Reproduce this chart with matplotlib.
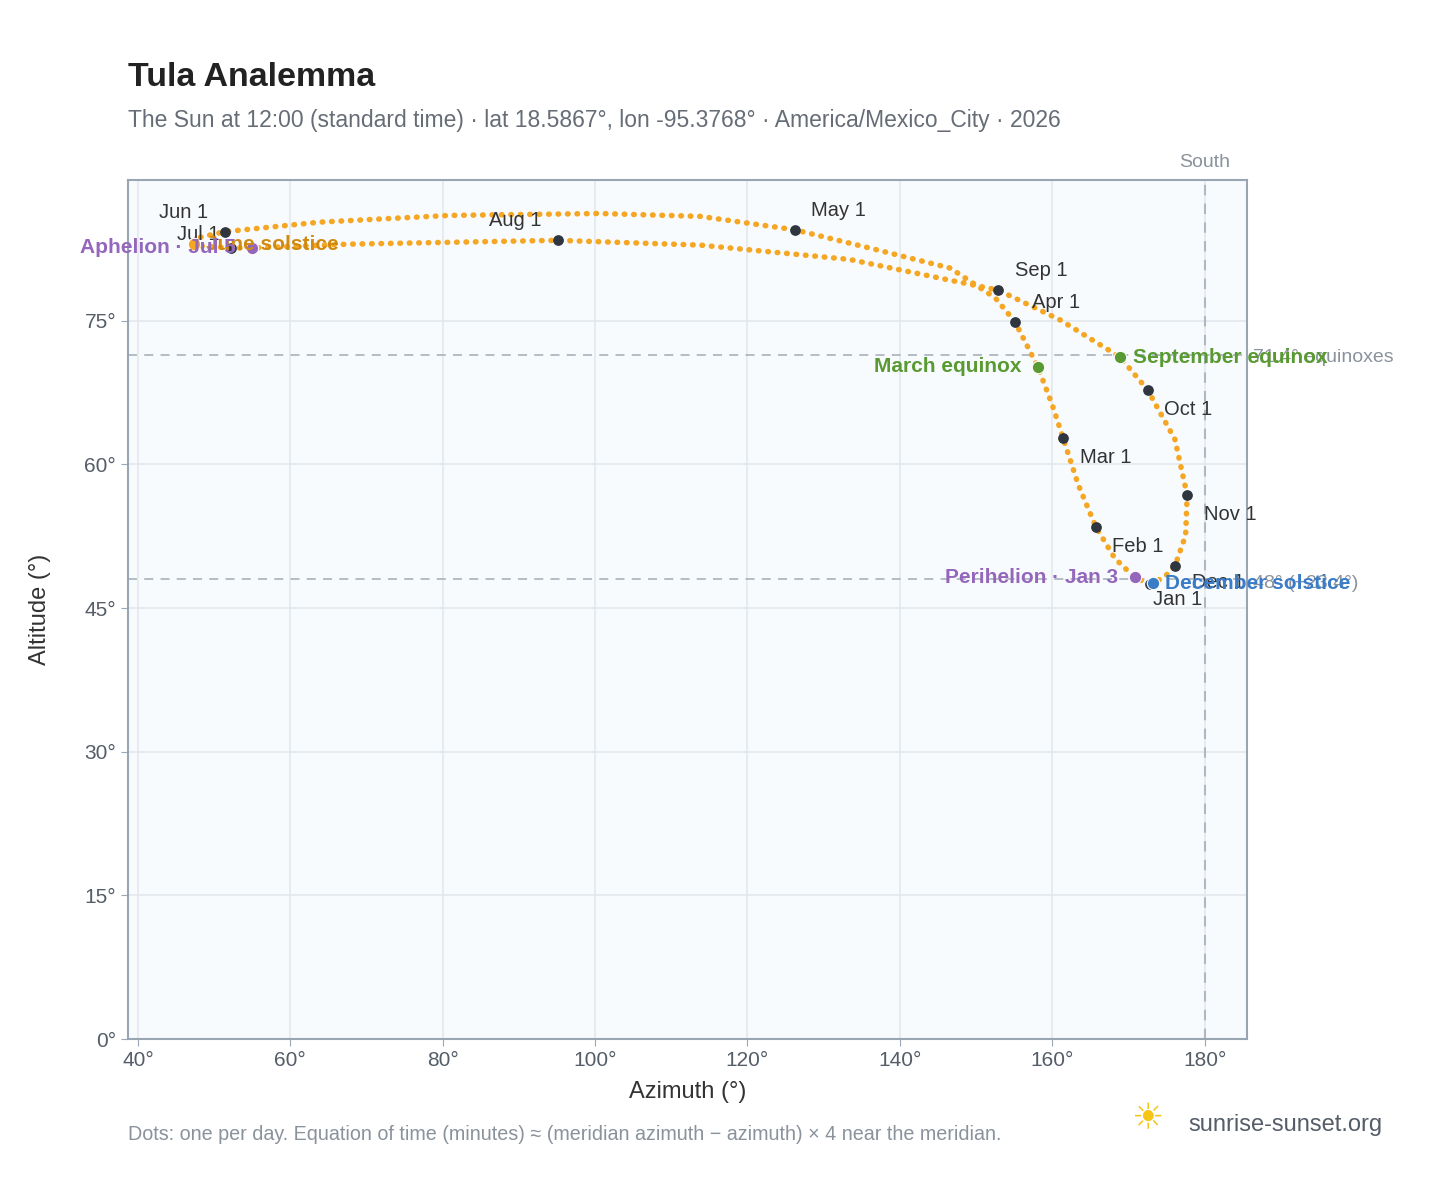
import matplotlib
matplotlib.use("Agg")
import matplotlib.pyplot as plt

plt.rcParams['font.family'] = ['Liberation Sans', 'DejaVu Sans']

# analemma path (azimuth°, altitude°), Jan 1 -> Dec 31
path_az = [172.8, 170.8, 168.2, 165.7, 163.4, 161.4, 160.0, 158.1, 155.1, 152.5, 146.6, 136.0, 126.2,
           113.8, 100.6, 80.9, 63.9, 51.4, 48.1, 47.3, 48.5, 52.2, 55.0, 67.8, 95.1, 113.8, 133.4,
           152.9, 161.0, 168.9, 172.5, 176.1, 177.7, 177.5, 176.1, 174.8, 173.2, 172.8]
path_alt = [47.5, 48.2, 50.2, 53.5, 57.9, 62.8, 66.2, 70.2, 74.9, 77.4, 80.5, 82.6, 84.5,
            85.9, 86.2, 86.0, 85.3, 84.3, 83.7, 83.0, 82.8, 82.6, 82.6, 83.0, 83.4, 82.9, 81.4,
            78.2, 75.1, 71.2, 67.8, 62.6, 56.8, 52.6, 49.4, 48.3, 47.6, 47.5]

months = ["Jan 1", "Feb 1", "Mar 1", "Apr 1", "May 1", "Jun 1", "Jul 1", "Aug 1", "Sep 1", "Oct 1", "Nov 1", "Dec 1"]
month_az = [172.8, 165.7, 161.4, 155.1, 126.2, 51.4, 52.2, 95.1, 152.9, 172.5, 177.7, 176.1]
month_alt = [47.5, 53.5, 62.8, 74.9, 84.5, 84.3, 82.6, 83.4, 78.2, 67.8, 56.8, 49.4]
month_off = [(2, -11), (12, -14), (12, -14), (12, 14), (12, 14), (-12, 14), (-8, 10), (-12, 14),
             (12, 14), (12, -14), (12, -14), (12, -12)]

events = ["March equinox", "June solstice", "September equinox", "December solstice", "Perihelion · Jan 3", "Aphelion · Jul 5"]
event_az = [158.1, 47.3, 168.9, 173.2, 170.8, 55.0]
event_alt = [70.2, 83.0, 71.2, 47.6, 48.2, 82.6]
event_col = ["#5a9a32", "#f5a623", "#5a9a32", "#3a7cc8", "#9467bd", "#9467bd"]
event_txt = ["#5a9a32", "#d08a10", "#5a9a32", "#3a7cc8", "#9467bd", "#9467bd"]
event_ha = ["right", "left", "left", "left", "right", "right"]

eq_alt = 71.4
dec_alt = 48.0

fig = plt.figure(figsize=(14.48, 11.88), dpi=100)
ax = fig.add_axes([0.0884, 0.1254, 0.7725, 0.7231])
ax.set_facecolor("#f8fbfe")
ax.set_xlim(38.7, 185.5)
ax.set_ylim(0, 89.7)
ax.set_xticks(range(40, 181, 20))
ax.set_xticklabels([f"{v}°" for v in range(40, 181, 20)])
ax.set_yticks(range(0, 76, 15))
ax.set_yticklabels([f"{v}°" for v in range(0, 76, 15)])
ax.grid(color="#e3e8ee", lw=1.2)
ax.set_axisbelow(True)
for s in ax.spines.values():
    s.set_color("#9aa5b4"); s.set_linewidth(1.5)
ax.tick_params(colors="#555d68", labelsize=15, length=5, color="#9aa5b4")
ax.set_xlabel("Azimuth (°)", fontsize=17, color="#333", labelpad=8)
ax.set_ylabel("Altitude (°)", fontsize=17, color="#333", labelpad=24)

ax.axhline(eq_alt, color="#aeb7c2", ls=(0, (5, 4)), lw=1.3, zorder=1)
ax.axhline(dec_alt, color="#aeb7c2", ls=(0, (5, 4)), lw=1.3, zorder=1)
ax.axvline(180, color="#aeb7c2", ls=(0, (5, 4)), lw=1.5, zorder=1)
ax.text(180, 90.6, "South", ha="center", va="bottom", color="#8a929c", fontsize=14)
ax.text(186.3, eq_alt - 0.2, f"{eq_alt}° equinoxes", ha="left", va="center", color="#8a929c", fontsize=14, clip_on=False)
ax.text(186.3, dec_alt - 0.4, "48° (−23.4°)", ha="left", va="center", color="#8a929c", fontsize=14, clip_on=False)

ax.plot(path_az, path_alt, color="#f5a623", lw=4, ls=(0, (0.1, 1.6)),
        dash_capstyle="round", zorder=3)
ax.scatter(month_az, month_alt, s=45, color="#2f3640", zorder=5)
for n, x, y, (dx, dy) in zip(months, month_az, month_alt, month_off):
    ax.annotate(n, (x, y), xytext=(dx, dy), textcoords="offset points", fontsize=14.5, color="#333",
                ha="left" if dx >= 0 else "right", va="center", zorder=6)
for n, x, y, c, tc, ha in zip(events, event_az, event_alt, event_col, event_txt, event_ha):
    ax.scatter([x], [y], s=80, color=c, zorder=6, edgecolor="white", lw=0.8)
    dx = 9 if ha == "left" else -12
    ax.annotate(n, (x, y), xytext=(dx, 0), textcoords="offset points", fontsize=15, fontweight="bold",
                color=tc, ha=ha, va="center", zorder=7)

fig.text(0.0884, 0.928, "Tula Analemma", fontsize=24.5, fontweight="bold", color="#222")
fig.text(0.0884, 0.893, "The Sun at 12:00 (standard time) · lat 18.5867°, lon -95.3768° · America/Mexico_City · 2026",
         fontsize=16.5, color="#666d77")
fig.text(0.0884, 0.04, "Dots: one per day. Equation of time (minutes) ≈ (meridian azimuth − azimuth) × 4 near the meridian.",
         fontsize=14.2, color="#8a929c")
fig.text(0.821, 0.053, "sunrise-sunset.org", fontsize=17, color="#555d68", va="center")
fig.text(0.792, 0.058, "☀", fontsize=26, color="#f5c518", va="center", ha="center", family="DejaVu Sans")
fig.savefig("out.png", dpi=100)
